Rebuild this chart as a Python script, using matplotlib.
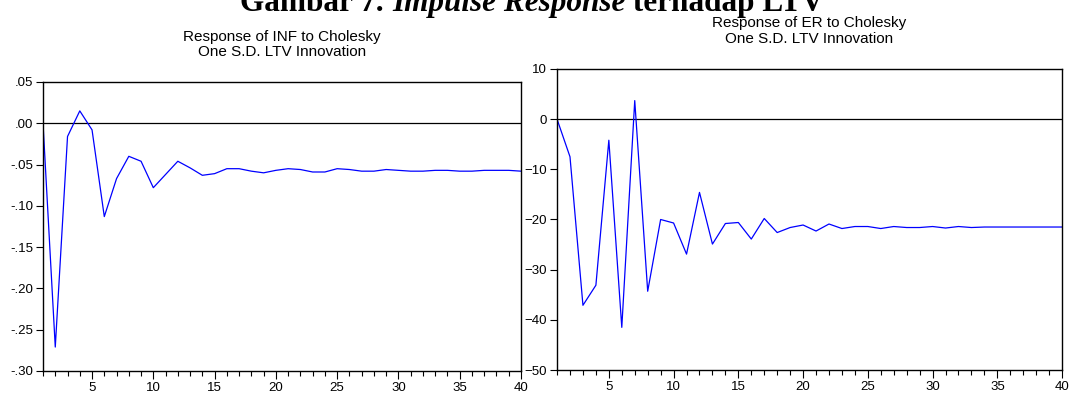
import matplotlib.pyplot as plt
import numpy as np
from matplotlib.ticker import MultipleLocator, FuncFormatter

plt.rcParams['font.family'] = ['Liberation Sans', 'DejaVu Sans']

periods = np.arange(1, 41)

# Response of INF to LTV shock
inf_resp = [0.000, -0.271, -0.016, 0.015, -0.008, -0.113, -0.067, -0.040, -0.046, -0.078,
            -0.062, -0.046, -0.054, -0.063, -0.061, -0.055, -0.055, -0.058, -0.060, -0.057,
            -0.055, -0.056, -0.059, -0.059, -0.055, -0.056, -0.058, -0.058, -0.056, -0.057,
            -0.058, -0.058, -0.057, -0.057, -0.058, -0.058, -0.057, -0.057, -0.057, -0.058]

# Response of ER to LTV shock
er_resp = [0.0, -7.5, -37.1, -33.1, -4.2, -41.5, 3.7, -34.3, -20.0, -20.7,
           -26.9, -14.6, -24.9, -20.8, -20.6, -23.9, -19.8, -22.6, -21.6, -21.1,
           -22.3, -20.9, -21.8, -21.4, -21.4, -21.8, -21.4, -21.6, -21.6, -21.4,
           -21.7, -21.4, -21.6, -21.5, -21.5, -21.5, -21.5, -21.5, -21.5, -21.5]

inf_title = 'Response of INF to Cholesky\nOne S.D. LTV Innovation'
er_title = 'Response of ER to Cholesky\nOne S.D. LTV Innovation'

# caption pieces: (text, italic?)
caption = [('Gambar 7. ', False), ('Impulse Response', True), (' terhadap LTV', False)]


def dot_fmt(v, pos):
    s = f'{v:.2f}'
    return s.replace('0.', '.', 1)


def style_axis(ax):
    ax.set_xlim(1, 40)
    ax.xaxis.set_major_locator(MultipleLocator(5))
    ax.xaxis.set_minor_locator(MultipleLocator(1))
    ax.tick_params(axis='x', which='major', direction='out', length=6, width=0.8, labelsize=9.5, pad=2)
    ax.tick_params(axis='x', which='minor', direction='out', length=3.5, width=0.8)
    ax.tick_params(axis='y', which='major', direction='out', length=5, width=0.8, labelsize=9.5, pad=2)
    for sp in ax.spines.values():
        sp.set_linewidth(1.0)
        sp.set_color('black')
    ax.axhline(0, color='black', lw=0.9, zorder=1)


fig = plt.figure(figsize=(10.7, 3.94), dpi=100)

# caption, partly cut off by the top edge; lay pieces out left to right
renderer = fig.canvas.get_renderer()
pieces = []
total_w = 0
for txt, it in caption:
    t = fig.text(0, 0.971, txt, fontsize=22.5, fontweight='bold',
                 style='italic' if it else 'normal',
                 family='Liberation Serif', ha='left', va='baseline')
    w = t.get_window_extent(renderer).width / fig.bbox.width
    pieces.append((t, w))
    total_w += w
x0 = 0.4975 - total_w / 2
for t, w in pieces:
    t.set_x(x0)
    x0 += w

ax1 = fig.add_axes([0.0402, 0.0584, 0.4467, 0.7335])
ax1.plot(periods, inf_resp, color='blue', lw=0.9, zorder=2)
style_axis(ax1)
ax1.set_ylim(-0.30, 0.05)
ax1.yaxis.set_major_locator(MultipleLocator(0.05))
ax1.yaxis.set_major_formatter(FuncFormatter(dot_fmt))
ax1.set_title(inf_title, fontsize=11, pad=19, linespacing=1.1)

ax2 = fig.add_axes([0.5206, 0.0609, 0.472, 0.764])
ax2.plot(periods, er_resp, color='blue', lw=0.9, zorder=2)
style_axis(ax2)
ax2.set_ylim(-50, 10)
ax2.yaxis.set_major_locator(MultipleLocator(10))
ax2.set_title(er_title, fontsize=11, pad=19, linespacing=1.15)

fig.savefig('out.png', dpi=100)
